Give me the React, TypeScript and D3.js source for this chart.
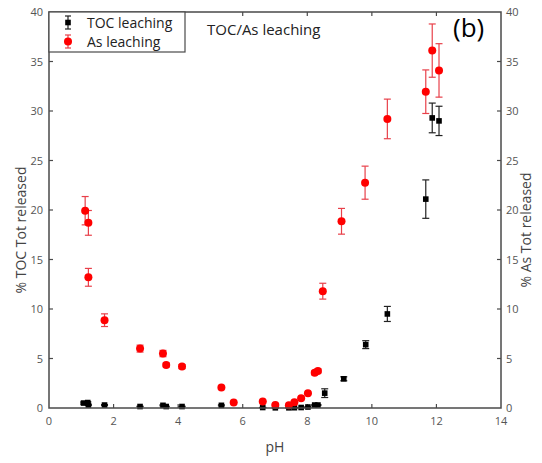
import React from "react";
import * as d3 from "d3";

const W = 542;
const H = 463;

// TOC leaching (black squares)
const tocPH = [1.07, 1.2, 1.22, 1.72, 2.82, 3.53, 3.63, 4.12, 5.34, 6.62, 7.01, 7.43, 7.6, 7.81, 8.02, 8.23, 8.33, 8.54, 9.13, 9.81, 10.48, 11.67, 11.87, 12.08];
const tocVal = [0.5, 0.55, 0.3, 0.3, 0.15, 0.27, 0.15, 0.15, 0.27, 0.05, 0.02, 0.02, 0.03, 0.05, 0.1, 0.3, 0.3, 1.5, 2.95, 6.4, 9.5, 21.1, 29.3, 29.0];
const tocErr = [0.1, 0.1, 0.05, 0.05, 0.03, 0.05, 0.03, 0.03, 0.05, 0.01, 0.01, 0.01, 0.01, 0.01, 0.02, 0.05, 0.05, 0.44, 0.2, 0.4, 0.76, 1.94, 1.5, 1.48];

// As leaching (red circles)
const asPH = [1.12, 1.22, 1.22, 1.72, 2.82, 3.53, 3.63, 4.12, 5.34, 5.72, 6.62, 7.01, 7.43, 7.6, 7.81, 8.02, 8.23, 8.33, 8.48, 9.06, 9.79, 10.48, 11.67, 11.87, 12.08];
const asVal = [19.93, 18.7, 13.2, 8.87, 6.0, 5.5, 4.35, 4.18, 2.08, 0.56, 0.66, 0.3, 0.28, 0.57, 0.98, 1.5, 3.55, 3.75, 11.8, 18.86, 22.76, 29.2, 31.95, 36.1, 34.1];
const asErr = [1.43, 1.25, 0.9, 0.64, 0.35, 0.32, 0.2, 0.2, 0.1, 0.03, 0.03, 0.02, 0.02, 0.03, 0.05, 0.08, 0.2, 0.2, 0.8, 1.3, 1.67, 2.0, 2.2, 2.69, 2.7];

const xTicks = [0, 2, 4, 6, 8, 10, 12, 14];
const yTicks = [0, 5, 10, 15, 20, 25, 30, 35, 40];

const M = { left: 49, right: 501, top: 12, bottom: 408 };
const FONT = "'Open Sans', 'Noto Sans', sans-serif";
const AXIS = "#4a4a4a";
const LABEL = "#555";
const RED = "#ff0000";
const RED_ERR = "#e8404a";

export default function App() {
  const x = d3.scaleLinear().domain([0, 14]).range([M.left, M.right]);
  const y = d3.scaleLinear().domain([0, 40]).range([M.bottom, M.top]);
  const tl = 4;
  const cap = 3.5;

  const errBar = (px: number, v: number, e: number, color: string, key: string) => {
    const y1 = y(v + e);
    const y2 = y(v - e);
    return (
      <g key={key} stroke={color} strokeWidth={1.2}>
        <line x1={x(px)} x2={x(px)} y1={y1} y2={y2} />
        <line x1={x(px) - cap} x2={x(px) + cap} y1={y1} y2={y1} />
        <line x1={x(px) - cap} x2={x(px) + cap} y1={y2} y2={y2} />
      </g>
    );
  };

  return (
    <svg width={W} height={H} style={{ display: "block", position: "absolute", left: 0, top: 0 }} fontFamily={FONT}>
      <rect width={W} height={H} fill="#fff" />
      {/* ticks */}
      <g stroke={AXIS} strokeWidth={1.2}>
        {xTicks.slice(1, -1).map((t) => (
          <g key={"xt" + t}>
            <line x1={x(t)} x2={x(t)} y1={M.bottom} y2={M.bottom - tl} />
            <line x1={x(t)} x2={x(t)} y1={M.top} y2={M.top + tl} />
          </g>
        ))}
        {yTicks.slice(1, -1).map((t) => (
          <g key={"yt" + t}>
            <line x1={M.left} x2={M.left + tl} y1={y(t)} y2={y(t)} />
            <line x1={M.right} x2={M.right - tl} y1={y(t)} y2={y(t)} />
          </g>
        ))}
      </g>
      {/* data: TOC */}
      {tocPH.map((p, i) => errBar(p, tocVal[i], tocErr[i], "#222", "te" + i))}
      {tocPH.map((p, i) => (
        <rect key={"ts" + i} x={x(p) - 2.8} y={y(tocVal[i]) - 2.8} width={5.6} height={5.6} fill="#000" />
      ))}
      {/* data: As */}
      {asPH.map((p, i) => errBar(p, asVal[i], asErr[i], RED_ERR, "ae" + i))}
      {asPH.map((p, i) => (
        <circle key={"ac" + i} cx={x(p)} cy={y(asVal[i])} r={4} fill={RED} />
      ))}
      {/* frame */}
      <rect x={M.left} y={M.top} width={M.right - M.left} height={M.bottom - M.top} fill="none" stroke={AXIS} strokeWidth={1.5} />
      {/* tick labels */}
      <g fill={LABEL} fontSize={11}>
        {xTicks.map((t) => (
          <text key={"xl" + t} x={x(t)} y={M.bottom + 17} textAnchor="middle">{t}</text>
        ))}
        {yTicks.map((t) => (
          <text key={"yl" + t} x={M.left - 6} y={y(t) + 4} textAnchor="end">{t}</text>
        ))}
        {yTicks.map((t) => (
          <text key={"yr" + t} x={M.right + 5} y={y(t) + 4} textAnchor="start">{t}</text>
        ))}
      </g>
      {/* axis titles */}
      <text x={(M.left + M.right) / 2} y={452} textAnchor="middle" fontSize={14} fill="#444">pH</text>
      <text transform={`translate(26,230) rotate(-90)`} textAnchor="middle" fontSize={14} fill="#444">% TOC Tot released</text>
      <text transform={`translate(531,230) rotate(-90)`} textAnchor="middle" fontSize={14} fill="#444">% As Tot released</text>
      {/* legend */}
      <rect x={M.left} y={M.top} width={136} height={40} fill="#fff" stroke={AXIS} strokeWidth={1.2} />
      <g stroke="#222" strokeWidth={1.2}>
        <line x1={68} x2={68} y1={16} y2={29} />
        <line x1={65} x2={71} y1={16} y2={16} />
        <line x1={65} x2={71} y1={29} y2={29} />
      </g>
      <rect x={65.2} y={19.7} width={5.6} height={5.6} fill="#000" />
      <g stroke={RED_ERR} strokeWidth={1.2}>
        <line x1={68} x2={68} y1={35} y2={48} />
        <line x1={65} x2={71} y1={35} y2={35} />
        <line x1={65} x2={71} y1={48} y2={48} />
      </g>
      <circle cx={68} cy={41.5} r={4} fill={RED} />
      <text x={87} y={28} fontSize={14} fill="#222">TOC leaching</text>
      <text x={87} y={47} fontSize={14} fill="#222">As leaching</text>
      {/* title */}
      <text x={207} y={35} fontSize={15} fill="#222">TOC/As leaching</text>
      <text x={453} y={37} fontSize={26} fill="#000">(b)</text>
    </svg>
  );
}
